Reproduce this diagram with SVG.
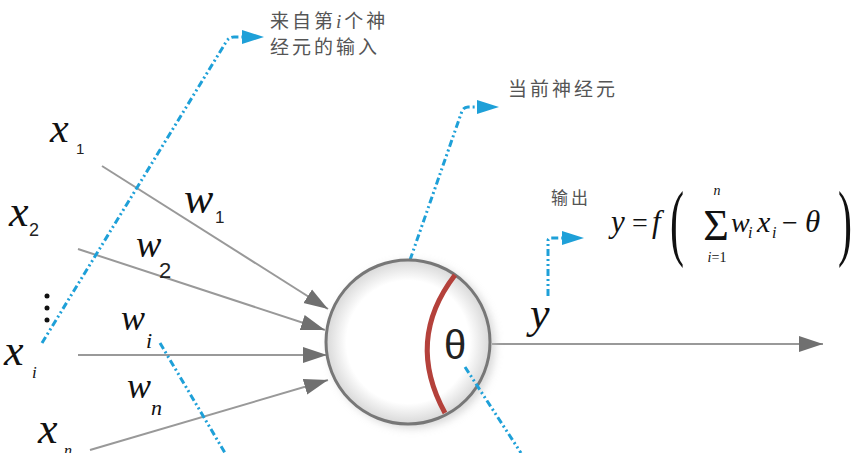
<svg xmlns="http://www.w3.org/2000/svg" width="862" height="453" viewBox="0 0 862 453">
<style>
.in{stroke:#999;stroke-width:2;fill:none}
.bl{stroke:#1ea0d8;stroke-width:3;fill:none;stroke-dasharray:7 3 2 3 2 3}
.m{font-family:'Liberation Serif','DejaVu Serif',serif;font-style:italic;fill:#111}
.r{font-family:'Liberation Serif','DejaVu Serif',serif;fill:#111}
.s{font-family:'Liberation Sans',sans-serif;fill:#222}
.cn{font-family:'Noto Sans CJK SC',sans-serif;fill:#555;letter-spacing:3px}
</style>
<defs>
<marker id="ga" markerUnits="userSpaceOnUse" markerWidth="26" markerHeight="18" refX="24" refY="9" orient="auto"><path d="M0,1 L24,9 L0,17 z" fill="#707070"/></marker>
<marker id="ba" markerUnits="userSpaceOnUse" markerWidth="24" markerHeight="16" refX="2" refY="8" orient="auto"><path d="M0,1 L22,8 L0,15 z" fill="#1ea0d8"/></marker>
<radialGradient id="cg" cx="0.5" cy="0.5" r="0.5"><stop offset="0.75" stop-color="#fff"/><stop offset="1" stop-color="#d8d8d8"/></radialGradient>
<filter id="sh" x="-20%" y="-20%" width="140%" height="140%"><feGaussianBlur stdDeviation="4"/></filter>
</defs>
<g id="connectors">
<line class="in" x1="102" y1="166" x2="328" y2="309" marker-end="url(#ga)"/>
<line class="in" x1="78" y1="249" x2="325" y2="330" marker-end="url(#ga)"/>
<line class="in" x1="78" y1="355" x2="327" y2="355" marker-end="url(#ga)"/>
<line class="in" x1="90" y1="450" x2="328" y2="380" marker-end="url(#ga)"/>
<line class="in" x1="492" y1="344" x2="823" y2="344" marker-end="url(#ga)"/>
<path class="bl" d="M42,343 L226,42 Q229,37 234,37 L244,37" marker-end="url(#ba)"/>
<path class="bl" d="M410,260 L462,111 Q464,107 468,107 L479,107" marker-end="url(#ba)"/>
<path class="bl" d="M548,296 L548,241 Q548,238 551,238 L564,238" marker-end="url(#ba)"/>
<path class="bl" d="M160,343 L225,453"/>
</g>
<g id="neuron">
<circle cx="412" cy="345" r="83" fill="#bbb" filter="url(#sh)" opacity="0.6"/>
<circle cx="408" cy="342" r="82" fill="url(#cg)" stroke="#777" stroke-width="3"/>
<path d="M455,275 Q405,340 445,413" fill="none" stroke="#b4413b" stroke-width="5"/>
<text class="s" x="455" y="359" font-size="40" text-anchor="middle" fill="#111">θ</text>
</g>
<path class="bl" d="M465,367 L521,453"/>
<g id="inputs">
<text class="m" x="50" y="142" font-size="42">x</text><text class="s" x="76" y="154" font-size="15">1</text>
<text class="m" x="9" y="226" font-size="44">x</text><text class="s" x="29" y="236" font-size="18">2</text>
<g fill="#111"><circle cx="47" cy="296" r="2.5"/><circle cx="47" cy="308" r="2.5"/><circle cx="47" cy="320" r="2.5"/></g>
<text class="m" x="4" y="365" font-size="44">x</text><text class="m" x="32" y="378" font-size="17">i</text>
<text class="m" x="38" y="443" font-size="44">x</text><text class="m" x="64" y="456" font-size="16">n</text>
</g>
<g id="weights">
<text class="m" x="184" y="213" font-size="44">w</text><text class="s" x="215" y="223" font-size="17">1</text>
<text class="m" x="136" y="257" font-size="38">w</text><text class="s" x="159" y="278" font-size="22">2</text>
<text class="m" x="121" y="330" font-size="36">w</text><text class="m" x="146" y="348" font-size="22">i</text>
<text class="m" x="127" y="398" font-size="36">w</text><text class="m" x="151" y="415" font-size="22">n</text>
</g>
<g id="output">
<text class="m" x="530" y="328" font-size="44">y</text>
</g>
<g id="notes">
<text class="cn" x="270" y="28" font-size="19">来自第<tspan font-family="Liberation Serif" font-style="italic">i</tspan>个神</text>
<text class="cn" x="270" y="54" font-size="19">经元的输入</text>
<text class="cn" x="508" y="96" font-size="19">当前神经元</text>
<text class="cn" x="551" y="204" font-size="17" letter-spacing="1">输出</text>
</g>
<g id="formula">
<text class="m" x="611" y="232" font-size="31">y</text>
<text class="r" x="632" y="232" font-size="28">=</text>
<text class="m" x="652" y="232" font-size="31">f</text>
<text class="r" x="0" y="0" font-size="84" transform="translate(670,250) scale(0.5,1)">(</text>
<text class="r" x="716" y="240" font-size="44" text-anchor="middle">Σ</text>
<text class="m" x="717" y="195" font-size="14" text-anchor="middle">n</text>
<text class="m" x="717" y="262" font-size="14" text-anchor="middle">i<tspan font-style="normal">=1</tspan></text>
<text class="m" x="731" y="232" font-size="28">w</text><text class="m" x="748" y="238" font-size="16">i</text>
<text class="m" x="757" y="232" font-size="30">x</text><text class="m" x="772" y="238" font-size="16">i</text>
<text class="r" x="782" y="232" font-size="28">−</text>
<text class="m" x="805" y="232" font-size="31">θ</text>
<text class="r" x="0" y="0" font-size="84" transform="translate(838,250) scale(0.5,1)">)</text>
</g>
</svg>
